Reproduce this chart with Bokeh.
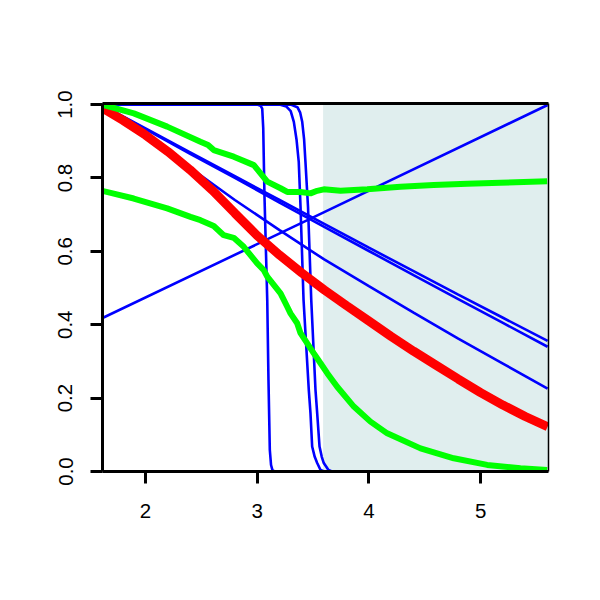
from bokeh.plotting import figure
from bokeh.models import Range1d, FixedTicker, NumeralTickFormatter, LinearAxis
from bokeh.embed import file_html
from bokeh.resources import INLINE

# ---------------- data ----------------
x_ticks = [2, 3, 4, 5]
y_ticks = [0.0, 0.2, 0.4, 0.6, 0.8, 1.0]

shade_from = 3.59          # start of the shaded region
shade_to = 5.7

# rising blue line
rise_x = [1.6, 3.6, 5.6]
rise_y = [0.416, 0.707, 0.999]

# red thick curve
red_x = [1.6, 1.8, 2.0, 2.2, 2.4, 2.6, 2.8, 3.0, 3.2, 3.4, 3.6,
         3.8, 4.0, 4.2, 4.4, 4.6, 4.8, 5.0, 5.2, 5.4, 5.6]
red_y = [0.993, 0.957, 0.917, 0.872, 0.822, 0.766, 0.704, 0.643, 0.590, 0.541, 0.495,
         0.452, 0.410, 0.368, 0.328, 0.290, 0.252, 0.215, 0.181, 0.150, 0.122]

# descending blue lines
desc_x = [1.6, 2.0, 2.4, 2.8, 3.2, 3.6, 4.0, 4.4, 4.8, 5.2, 5.6]
desc1_y = [1.0, 0.935, 0.870, 0.805, 0.740, 0.675, 0.610, 0.546, 0.482, 0.419, 0.356]
desc2_y = [1.0, 0.933, 0.866, 0.800, 0.733, 0.667, 0.601, 0.535, 0.470, 0.405, 0.340]
desc3_y = [1.0, 0.915, 0.828, 0.740, 0.658, 0.578, 0.505, 0.433, 0.362, 0.294, 0.226]

# steep blue drops
stepA_x = [1.6, 3.00, 3.03, 3.045, 3.054, 3.065, 3.09, 3.101, 3.113, 3.124, 3.137, 3.16, 5.6]
stepA_y = [1.0, 1.0, 0.997, 0.989, 0.936, 0.753, 0.467, 0.249, 0.0586, 0.0177, 0.003, 0.0, 0.0]

stepB_x = [1.6, 3.20, 3.26, 3.30, 3.328, 3.352, 3.372, 3.388, 3.415, 3.462, 3.477, 3.492, 3.515, 3.537, 3.567, 3.60, 5.6]
stepB_y = [1.0, 1.0, 0.995, 0.982, 0.953, 0.905, 0.844, 0.721, 0.467, 0.222, 0.159, 0.068, 0.040, 0.023, 0.004, 0.0, 0.0]

stepC_x = [1.6, 3.30, 3.36, 3.385, 3.403, 3.42, 3.432, 3.455, 3.484, 3.522, 3.537, 3.558, 3.578, 3.596, 3.638, 3.67, 5.6]
stepC_y = [1.0, 1.0, 0.993, 0.978, 0.953, 0.905, 0.844, 0.721, 0.467, 0.222, 0.159, 0.068, 0.040, 0.023, 0.004, 0.0, 0.0]

# green curves
g1_x = [1.612, 1.895, 2.194, 2.492, 2.56, 2.611, 2.79, 2.97, 3.03, 3.09, 3.209, 3.269,
        3.388, 3.477, 3.537, 3.596, 3.746, 3.985, 4.283, 4.58, 4.88, 5.178, 5.596]
g1_y = [1.0, 0.976, 0.940, 0.899, 0.890, 0.876, 0.858, 0.835, 0.8125, 0.79, 0.772, 0.762,
        0.762, 0.758, 0.765, 0.769, 0.765, 0.769, 0.776, 0.781, 0.784, 0.787, 0.791]

g2_x = [1.612, 1.895, 2.194, 2.403, 2.492, 2.611, 2.70, 2.79, 2.88, 3.0, 3.059, 3.09,
        3.209, 3.269, 3.298, 3.358, 3.388, 3.507, 3.567, 3.627, 3.716, 3.865, 4.014,
        4.164, 4.462, 4.76, 5.059, 5.357, 5.596]
g2_y = [0.765, 0.744, 0.717, 0.694, 0.685, 0.669, 0.644, 0.637, 0.6125, 0.567, 0.549, 0.531,
        0.4856, 0.449, 0.431, 0.404, 0.377, 0.322, 0.295, 0.268, 0.231, 0.177, 0.136,
        0.104, 0.063, 0.036, 0.018, 0.009, 0.004]

# ---------------- figure ----------------
BLUE, RED, GREEN = "#0000FF", "#FF0000", "#00FF00"
FONT = "Liberation Sans"

p = figure(frame_width=446, frame_height=368,
           x_range=Range1d(1.615, 5.608), y_range=Range1d(0.0, 1.003),
           min_border_left=102, min_border_right=52, min_border_top=103, min_border_bottom=129,
           output_backend="svg", toolbar_location=None,
           background_fill_color="white", border_fill_color="white")
p.outline_line_color = None
p.xgrid.visible = False
p.ygrid.visible = False

p.quad(left=[shade_from], right=[shade_to], bottom=[-0.1], top=[1.1],
       fill_color="#E0EEEE", line_color=None)

bw = 2.6
p.line(rise_x, rise_y, line_color=BLUE, line_width=bw)
for yy in (desc1_y, desc2_y, desc3_y):
    p.line(desc_x, yy, line_color=BLUE, line_width=bw)
p.line(stepA_x, stepA_y, line_color=BLUE, line_width=bw)
p.line(stepB_x, stepB_y, line_color=BLUE, line_width=bw)
p.line(stepC_x, stepC_y, line_color=BLUE, line_width=bw)
p.line(red_x, red_y, line_color=RED, line_width=9)
p.line(g1_x, g1_y, line_color=GREEN, line_width=6)
p.line(g2_x, g2_y, line_color=GREEN, line_width=6)

def style(ax):
    ax.axis_line_width = 3
    ax.axis_line_color = "black"
    ax.major_tick_line_width = 3
    ax.major_tick_line_color = "black"
    ax.major_tick_out = 12
    ax.major_tick_in = 0
    ax.minor_tick_line_color = None
    ax.major_label_text_font = FONT
    ax.major_label_text_font_size = "20.5px"
    ax.major_label_text_color = "black"

xa = p.xaxis[0]
style(xa)
xa.ticker = FixedTicker(ticks=x_ticks)
xa.formatter = NumeralTickFormatter(format="0")
xa.major_label_standoff = 20

ya = p.yaxis[0]
style(ya)
ya.ticker = FixedTicker(ticks=y_ticks)
ya.formatter = NumeralTickFormatter(format="0.0")
ya.major_label_orientation = "vertical"
ya.major_label_standoff = 18

top = LinearAxis(ticker=FixedTicker(ticks=[]), axis_line_width=3, axis_line_color="black",
                 major_tick_line_color=None, minor_tick_line_color=None,
                 major_label_text_font_size="0px")
p.add_layout(top, "above")
right = LinearAxis(ticker=FixedTicker(ticks=[]), axis_line_width=1.5, axis_line_color="black",
                   major_tick_line_color=None, minor_tick_line_color=None,
                   major_label_text_font_size="0px")
p.add_layout(right, "right")

open("out.html", "w").write(file_html(p, INLINE))
